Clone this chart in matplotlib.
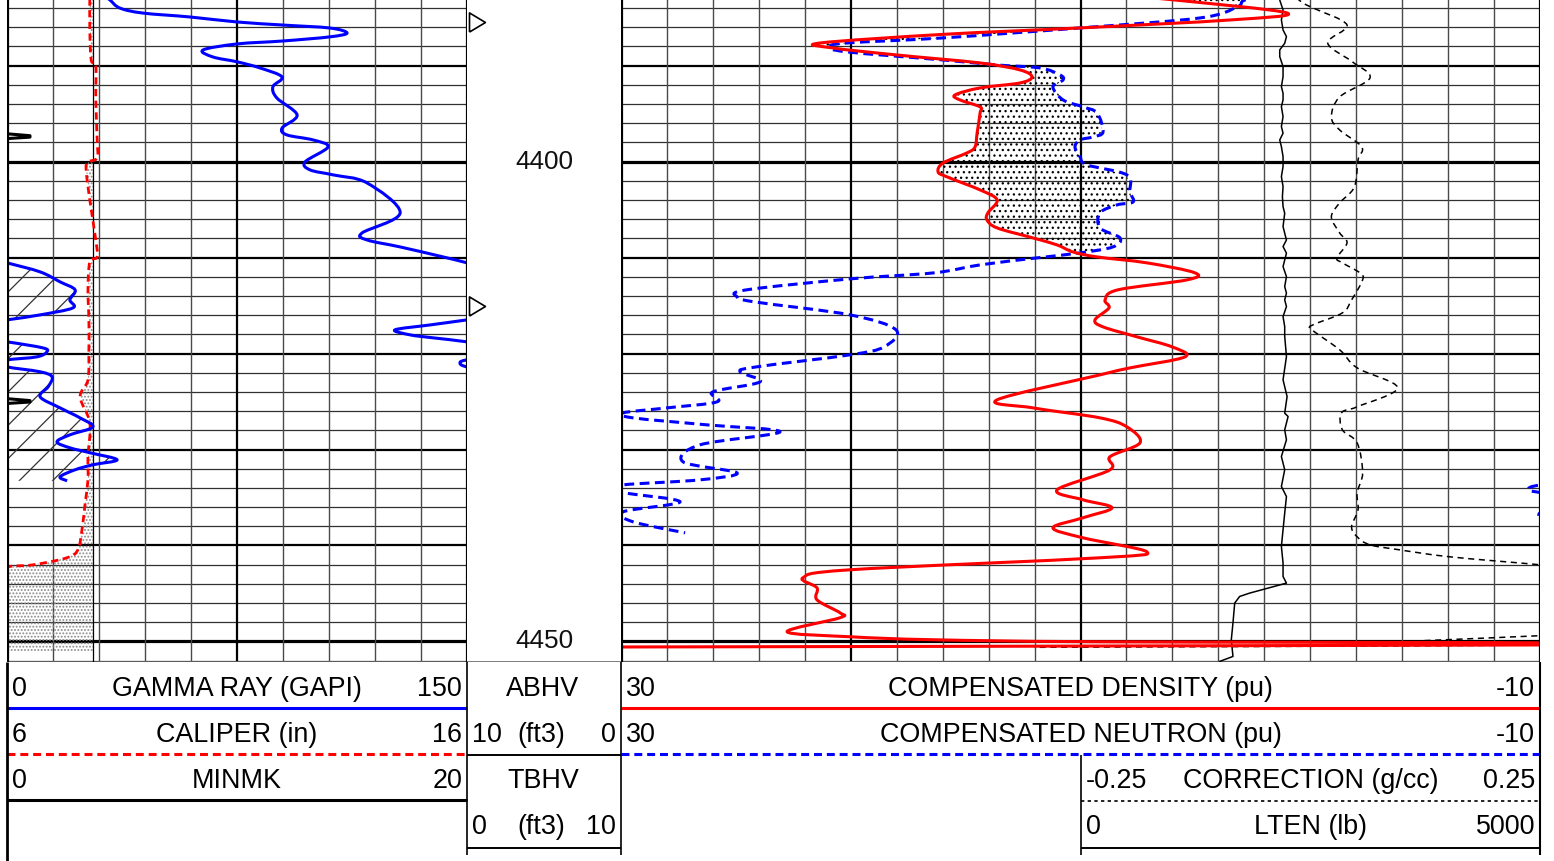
import numpy as np
import matplotlib
matplotlib.use("Agg")
import matplotlib.pyplot as plt
from matplotlib.path import Path
from matplotlib.patches import PathPatch

plt.rcParams['font.family'] = ['Liberation Sans', 'DejaVu Sans']
plt.rcParams['hatch.linewidth'] = 0.9

# ------------------------------------------------------------------ data
depth_top, depth_bottom = 4383.16, 4452.14
depth_labels = [4400, 4450]

# Gamma ray (GAPI); values above 150 wrap to the backup scale 150-300
gr_depth = [4382.8, 4383.16, 4384.0, 4384.52, 4384.93, 4385.45, 4385.77, 4386.08, 4386.6, 4387.0,
            4387.43, 4387.74, 4388.37, 4389.1, 4389.6, 4390.24, 4391.18, 4392.2, 4393.37, 4395.14,
            4396.5, 4397.22, 4397.74, 4398.47, 4400.03, 4400.86, 4401.38, 4402.22, 4405.34, 4407.43,
            4408.16, 4408.89, 4409.93, 4410.55, 4411.49, 4412.53, 4413.36, 4414.4, 4415.24, 4415.97,
            4416.49, 4417.02, 4417.53, 4418.05, 4418.36, 4418.78, 4419.41, 4419.82, 4420.34, 4420.66,
            4420.97, 4421.39, 4421.9, 4422.43, 4423.47, 4424.51, 4425.66, 4426.7, 4427.64, 4428.47,
            4429.2, 4429.82, 4430.34, 4431.07, 4431.59, 4432.11, 4432.84, 4433.26]
gr_value = [32.0, 33.6, 36.8, 44.3, 59.7, 75.0, 90.0, 105.3, 110.9, 105.3,
            90.0, 75.0, 63.9, 67.2, 75.0, 82.5, 89.7, 86.7, 88.0, 94.6,
            89.7, 91.3, 99.8, 104.7, 97.2, 98.8, 106.3, 117.4, 128.2, 115.8,
            117.4, 128.2, 142.2, 150.0, 160.8, 167.3, 172.2, 170.5, 171.5, 160.8,
            150.0, 137.9, 126.5, 131.4, 138.9, 150.0, 161.7, 163.0, 159.8, 150.0,
            147.7, 150.0, 160.8, 164.7, 163.4, 160.8, 167.3, 173.8, 178.0, 170.5,
            166.3, 170.5, 177.1, 185.9, 178.0, 172.2, 167.3, 169.6]

# Caliper (in) and bit size
cal_depth = [4383.0, 4386.28, 4389.41, 4390.03, 4393.57, 4397.74, 4399.61, 4400.03, 4400.86, 4403.99,
             4408.16, 4409.93, 4410.45, 4413.37, 4416.49, 4419.61, 4422.74, 4424.51, 4427.22, 4430.76,
             4433.16, 4435.55, 4438.36, 4440.45, 4441.28, 4442.01, 4442.22, 4443.0, 4451.07]
cal_value = [7.80, 7.80, 7.83, 7.93, 7.93, 7.96, 7.96, 7.76, 7.72, 7.80,
             7.93, 7.96, 7.80, 7.76, 7.78, 7.78, 7.76, 7.59, 7.80, 7.76,
             7.76, 7.70, 7.63, 7.54, 7.30, 6.57, 6.00, 5.30, 5.00]
bit_size = 7.875

# MINMK
minmk_depth = [4383.0, 4397.1, 4397.3, 4397.45, 4397.6, 4424.7, 4424.9, 4425.05, 4425.2, 4452.2]
minmk_value = [0.0, 0.0, 1.0, 1.0, 0.0, 0.0, 1.0, 1.0, 0.0, 0.0]

# ABHV tick depths
abhv_tick_depth = [4385.5, 4415.0]

# Compensated density (pu)
den_depth = [4382.6, 4383.16, 4384.51, 4385.24, 4386.07, 4386.74, 4387.64, 4388.16, 4388.89, 4389.72,
             4390.45, 4391.18, 4391.80, 4392.32, 4393.05, 4393.57, 4394.30, 4394.93, 4397.01, 4398.47,
             4399.09, 4400.14, 4401.07, 4401.59, 4402.95, 4403.99, 4405.34, 4406.07, 4406.91, 4407.95,
             4408.68, 4409.41, 4409.93, 4410.55, 4411.59, 4412.32, 4413.36, 4414.41, 4415.24, 4416.49,
             4417.22, 4418.26, 4419.30, 4420.34, 4421.49, 4422.22, 4424.82, 4425.66, 4426.70, 4427.64,
             4429.30, 4430.76, 4432.12, 4434.20, 4435.24, 4436.07, 4437.11, 4438.16, 4439.20, 4440.66,
             4441.28, 4442.53, 4443.36, 4444.41, 4445.66, 4447.01, 4447.53, 4448.99, 4449.51, 4449.82,
             4450.03, 4450.14, 4450.34, 4450.62]
den_value = [8.5, 5.89, 1.01, 3.49, 10.02, 15.98, 21.34, 20.77, 17.99, 14.37,
             12.63, 12.11, 12.63, 14.37, 15.46, 15.25, 14.37, 14.37, 14.50, 14.59,
             14.94, 15.98, 16.20, 15.81, 14.37, 13.63, 14.03, 14.07, 13.63, 12.07,
             11.02, 10.33, 9.28, 7.11, 5.02, 5.36, 8.37, 8.93, 8.76, 9.37,
             9.02, 7.54, 6.02, 5.45, 7.84, 9.15, 13.63, 12.07, 9.15, 7.98,
             7.41, 8.72, 8.72, 11.02, 9.89, 8.63, 9.89, 11.20, 9.89, 7.11,
             9.15, 20.03, 22.08, 21.47, 21.47, 20.47, 20.47, 22.77, 20.03, 16.42,
             9.15, -10.0, -14.0, 40.0]

# Compensated neutron (pu)
neu_depth = [4382.6, 4383.16, 4383.89, 4385.03, 4386.07, 4387.11, 4387.64, 4388.05, 4388.57, 4389.41,
             4389.93, 4390.24, 4390.97, 4391.49, 4392.22, 4393.57, 4394.30, 4394.93, 4396.91, 4397.43,
             4397.74, 4398.47, 4399.51, 4400.34, 4401.39, 4403.16, 4404.20, 4404.51, 4405.34, 4406.91,
             4407.95, 4408.89, 4409.51, 4410.03, 4410.76, 4411.59, 4412.22, 4413.37, 4414.09, 4414.61,
             4415.97, 4417.53, 4419.30, 4420.13, 4421.38, 4421.90, 4422.95, 4423.99, 4425.03, 4425.66,
             4426.18, 4426.70, 4427.43, 4428.16, 4429.51, 4431.28, 4432.43, 4433.16, 4433.68, 4434.20,
             4434.51, 4435.45, 4436.49, 4437.53, 4438.68]
neu_value = [1.5, 2.84, 3.19, 4.80, 10.02, 15.98, 20.16, 20.90, 20.16, 15.98,
             13.63, 11.76, 10.89, 10.76, 11.20, 10.76, 9.89, 9.28, 9.02, 9.46,
             10.02, 10.24, 10.02, 9.72, 7.98, 7.85, 7.71, 8.41, 9.15, 9.15,
             8.28, 8.59, 10.02, 11.89, 14.37, 16.38, 20.03, 24.56, 24.95, 24.21,
             20.03, 18.03, 18.55, 20.03, 24.08, 24.82, 23.95, 26.00, 25.82, 28.00,
             29.91, 29.48, 26.26, 23.08, 26.56, 27.30, 24.95, 26.56, 29.91, 30.50,
             29.91, 27.43, 29.91, 29.48, 27.21]

# Density correction (g/cc)
corr_depth = [4382.9, 4383.48, 4383.99, 4385.76, 4387.64, 4389.61, 4391.28, 4393.26, 4395.34, 4396.70,
              4398.47, 4399.82, 4402.64, 4404.30, 4405.76, 4407.43, 4408.47, 4410.03, 4410.55, 4411.59,
              4412.32, 4414.41, 4415.76, 4417.01, 4417.53, 4419.61, 4421.49, 4423.57, 4425.55, 4426.18,
              4427.95, 4429.30, 4432.43, 4434.51, 4436.28, 4438.05, 4439.09, 4439.93, 4440.45, 4441.18,
              4442.01, 4442.53, 4449.09, 4449.40, 4449.82, 4450.14, 4450.35, 4450.61]
corr_value = [-0.015, -0.008, 0.003, 0.040, 0.019, 0.046, 0.065, 0.032, 0.023, 0.032,
              0.056, 0.052, 0.048, 0.032, 0.023, 0.032, 0.040, 0.029, 0.035, 0.054,
              0.057, 0.045, 0.035, 0.003, 0.002, 0.032, 0.051, 0.095, 0.051, 0.034,
              0.035, 0.051, 0.057, 0.051, 0.052, 0.045, 0.051, 0.065, 0.097, 0.152,
              0.250, 0.300, 0.300, 0.250, 0.148, 0.089, 0.300, -0.300]

# Line tension (lb)
lten_depth = [4383.16, 4384.20, 4385.24, 4386.28, 4386.98, 4387.67, 4388.36, 4389.06, 4390.10, 4391.15,
              4392.19, 4392.88, 4393.57, 4394.27, 4395.31, 4396.35, 4397.04, 4397.74, 4398.44, 4399.48,
              4400.52, 4401.56, 4402.60, 4403.65, 4404.69, 4405.38, 4406.77, 4407.46, 4408.16, 4408.85,
              4409.54, 4410.94, 4411.98, 4413.02, 4413.71, 4414.41, 4415.10, 4416.15, 4417.19, 4418.20,
              4420.31, 4422.74, 4424.48, 4426.21, 4426.56, 4427.95, 4428.99, 4430.73, 4432.11, 4433.85,
              4434.90, 4436.63, 4438.36, 4440.10, 4441.83, 4443.23, 4443.92, 4444.96, 4445.31, 4446.00,
              4448.08, 4449.82, 4451.56, 4452.08]
lten_value = [2168, 2204, 2186, 2204, 2241, 2222, 2168, 2168, 2204, 2204,
              2186, 2204, 2204, 2186, 2204, 2186, 2204, 2168, 2186, 2204,
              2204, 2186, 2204, 2197, 2204, 2222, 2204, 2222, 2241, 2204,
              2241, 2204, 2241, 2222, 2241, 2222, 2241, 2204, 2222, 2222,
              2241, 2204, 2248, 2222, 2259, 2222, 2241, 2186, 2222, 2186,
              2241, 2222, 2204, 2186, 2204, 2204, 2241, 1841, 1732, 1678,
              1659, 1641, 1659, 1514]

# curve scales (left value, right value)
gr_scale = (0, 150)
gr_backup_scale = (150, 300)
cal_scale = (6, 16)
minmk_scale = (0, 20)
den_scale = (30, -10)
neu_backup_scale = (70, 30)
corr_scale = (-0.25, 0.25)
lten_scale = (0, 5000)

# ------------------------------------------------------------------ layout
W, H = 1554, 861
fig = plt.figure(figsize=(W / 100, H / 100), dpi=100)

LOG_BOTTOM = 662
X_T1 = (7, 467)
X_DEP = (467, 621)
X_T2 = (621, 1540)


def frac(v, scale):
    v = np.asarray(v, dtype=float)
    return (v - scale[0]) / (scale[1] - scale[0])


def smooth_curve(ax, x, y, **kw):
    """Draw a curve through the points as a smooth Bezier path (Catmull-Rom control points)."""
    pts = np.column_stack([np.asarray(x, float), np.asarray(y, float)])
    n = len(pts)
    verts = [pts[0]]
    codes = [Path.MOVETO]
    for i in range(n - 1):
        p0 = pts[i - 1] if i > 0 else pts[i]
        p1 = pts[i]
        p2 = pts[i + 1]
        p3 = pts[i + 2] if i + 2 < n else pts[i + 1]
        verts += [p1 + (p2 - p0) / 6.0, p2 - (p3 - p1) / 6.0, p2]
        codes += [Path.CURVE4] * 3
    patch = PathPatch(Path(verts, codes), fill=False, transform=ax.transData, **kw)
    ax.add_patch(patch)
    return patch


# header axes in pixel coordinates
hax = fig.add_axes([0, 0, 1, 1], zorder=0)
hax.set_xlim(0, W)
hax.set_ylim(H, 0)
hax.axis('off')


def make_track(x0, x1):
    ax = fig.add_axes([x0 / W, 1 - LOG_BOTTOM / H, (x1 - x0) / W, LOG_BOTTOM / H], zorder=2)
    ax.set_xlim(0, 1)
    ax.set_ylim(depth_bottom, depth_top)
    ax.set_xticks([])
    ax.set_yticks([])
    ax.patch.set_alpha(0)
    for s in ax.spines.values():
        s.set_visible(False)
    return ax


def draw_grid(ax, ndiv, thick):
    grid_depths = np.arange(4384, 4453, 2)
    for d in grid_depths:
        if d % 50 == 0:
            ax.axhline(d, color='black', lw=2.3, zorder=1)
        elif d % 10 == 0:
            ax.axhline(d, color='black', lw=1.6, zorder=1)
        else:
            ax.axhline(d, color='#303030', lw=0.9, zorder=1)
    for i in range(1, ndiv):
        lw = 1.6 if i in thick else 1.0
        col = 'black' if i in thick else '#4a4a4a'
        ax.axvline(i / ndiv, color=col, lw=lw, zorder=1)
    ax.axhline(depth_bottom, color='#666666', lw=1.2, zorder=1)


ax1 = make_track(*X_T1)
axd = make_track(*X_DEP)
ax2 = make_track(*X_T2)
axd.axhline(depth_bottom, color='#666666', lw=1.2)

draw_grid(ax1, 10, {5})
draw_grid(ax2, 20, {5, 10})
for ax in (ax1, ax2):
    ax.axvline(0, color='black', lw=2.3, zorder=6)
    ax.axvline(1, color='black', lw=2.3, zorder=6)

# ---------------- track 1
gr_d = np.array(gr_depth)
gr_v = np.array(gr_value)
ax1.fill_betweenx(gr_d, 0, frac(gr_v, gr_backup_scale), where=gr_v > 150, interpolate=True,
                  facecolor='none', edgecolor='#333333', hatch='/', linewidth=0, zorder=2)
smooth_curve(ax1, frac(gr_v, gr_scale), gr_d, edgecolor='#0000ff', lw=2.2, zorder=5,
             joinstyle='round')
smooth_curve(ax1, frac(gr_v, gr_backup_scale), gr_d, edgecolor='#0000ff', lw=2.2, zorder=5,
             joinstyle='round')

cal_d = np.array(cal_depth)
cal_v = np.array(cal_value)
bit_x = frac(bit_size, cal_scale)
ax1.fill_betweenx(cal_d, frac(cal_v, cal_scale), bit_x, where=cal_v < bit_size, interpolate=True,
                  facecolor='none', edgecolor='#8a8a8a', hatch='.....', linewidth=0, zorder=2)
ax1.plot([bit_x, bit_x], [depth_top, depth_bottom], color='black', lw=0.9, zorder=3)
smooth_curve(ax1, frac(cal_v, cal_scale), cal_d, edgecolor='#ff0000', lw=2.0,
             linestyle=(0, (2.6, 1.6)), zorder=4)

ax1.plot(frac(minmk_value, minmk_scale), minmk_depth, color='black', lw=2.2, zorder=4)

# ---------------- depth track
for d in depth_labels:
    axd.text(0.5, d, str(d), ha='center', va='center', fontsize=18.8, color='#111111')
tri = [(0, -0.6), (1, 0), (0, 0.6), (0, -0.6)]
axd.plot(np.zeros(len(abhv_tick_depth)) + 0.012, abhv_tick_depth, linestyle='none', marker=tri,
         markersize=23, markerfacecolor='white', markeredgecolor='black', markeredgewidth=1.2,
         clip_on=False, zorder=5)

# ---------------- track 2
den_d = np.array(den_depth)
den_v = np.array(den_value)
neu_d = np.array(neu_depth)
neu_v = np.array(neu_value)
common = np.union1d(den_d, neu_d)
common = common[(common >= neu_d.min()) & (common <= neu_d.max())]
den_c = np.interp(common, den_d, den_v)
neu_c = np.interp(common, neu_d, neu_v)
ax2.fill_betweenx(common, frac(den_c, den_scale), frac(neu_c, den_scale), where=neu_c < den_c,
                  interpolate=True, facecolor='none', edgecolor='black', hatch='...', linewidth=0,
                  zorder=2)

smooth_curve(ax2, frac(neu_v, den_scale), neu_d, edgecolor='#0000ff', lw=2.2,
             linestyle=(0, (3.2, 1.8)), zorder=4)
smooth_curve(ax2, frac(neu_v, neu_backup_scale), neu_d, edgecolor='#0000ff', lw=2.2,
             linestyle=(0, (3.2, 1.8)), zorder=4)
smooth_curve(ax2, frac(den_v, den_scale), den_d, edgecolor='#ff0000', lw=2.2, zorder=5,
             joinstyle='round')

smooth_curve(ax2, 0.5 + 0.5 * frac(corr_value, corr_scale), corr_depth, edgecolor='black', lw=1.1,
             linestyle=(0, (4, 3)), zorder=4)
ax2.plot(0.5 + 0.5 * frac(lten_value, lten_scale), lten_depth, color='black', lw=1.1, zorder=4)

# ------------------------------------------------------------------ header
FS = 19.4
rows = [689, 735, 781, 827]


def hline(x0, x1, y, **kw):
    hax.plot([x0, x1], [y, y], solid_capstyle='butt', **kw)


def vline(x, y0, y1, **kw):
    hax.plot([x, x], [y0, y1], solid_capstyle='butt', **kw)


def header_row(x0, x1, y, left, mid, right, midx=None):
    hax.text(x0 + 5, y, left, ha='left', va='center', fontsize=FS)
    hax.text((x0 + x1) / 2 if midx is None else midx, y, mid, ha='center', va='center', fontsize=FS)
    hax.text(x1 - 5, y, right, ha='right', va='center', fontsize=FS)


header_row(7, 467, rows[0], '0', 'GAMMA RAY (GAPI)', '150')
header_row(7, 467, rows[1], '6', 'CALIPER (in)', '16')
header_row(7, 467, rows[2], '0', 'MINMK', '20')
hline(7, 467, 708, color='#0000ff', lw=2.2)
hline(7, 467, 754, color='#ff0000', lw=2.2, dashes=(2.6, 1.6))
hline(7, 467, 800, color='black', lw=2.2)

hax.text(543, rows[0], 'ABHV', ha='center', va='center', fontsize=FS)
header_row(467, 621, rows[1], '10', '(ft3)', '0', midx=541)
hax.text(543, rows[2], 'TBHV', ha='center', va='center', fontsize=FS)
header_row(467, 621, rows[3], '0', '(ft3)', '10', midx=541)
hline(467, 621, 755, color='black', lw=1.4)
hline(467, 621, 848, color='black', lw=1.4)

header_row(621, 1540, rows[0], '30', 'COMPENSATED DENSITY (pu)', '-10')
header_row(621, 1540, rows[1], '30', 'COMPENSATED NEUTRON (pu)', '-10')
hline(621, 1540, 708, color='#ff0000', lw=2.2)
hline(621, 1540, 754, color='#0000ff', lw=2.2, dashes=(2.6, 1.6))
header_row(1081, 1540, rows[2], '-0.25', 'CORRECTION (g/cc)', '0.25')
header_row(1081, 1540, rows[3], '0', 'LTEN (lb)', '5000')
hline(1081, 1540, 801, color='black', lw=1.2, dashes=(2, 2))
hline(1081, 1540, 848, color='black', lw=1.4)

vline(7, 662, 861, color='black', lw=2.0)
vline(467, 662, 855, color='black', lw=1.2)
vline(621, 662, 855, color='black', lw=1.2)
vline(1081, 755, 855, color='black', lw=1.2)
vline(1540, 662, 855, color='black', lw=1.5)

fig.savefig('out.png', dpi=100)
